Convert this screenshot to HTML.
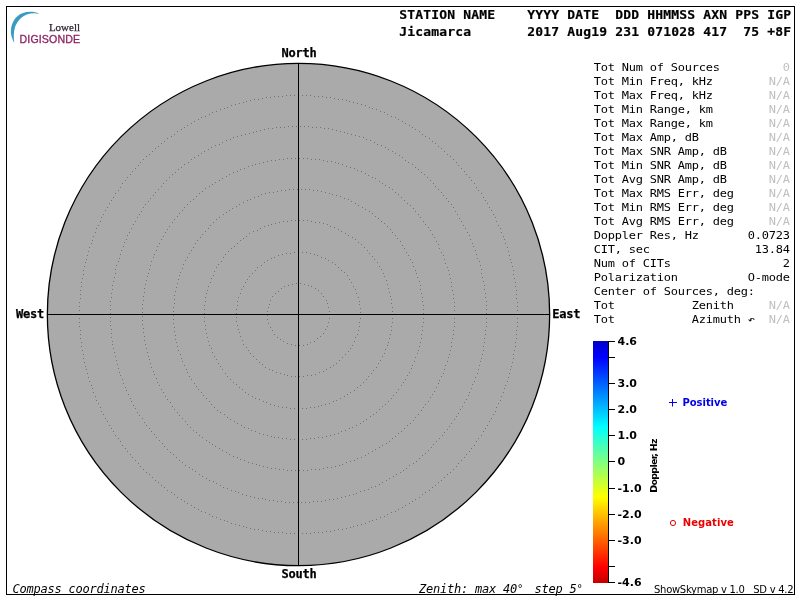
<!DOCTYPE html>
<html lang="en">
<head>
<meta charset="utf-8">
<title>Skymap - Jicamarca</title>
<style>
html,body{margin:0;padding:0;background:#fff;}
body{width:800px;height:600px;overflow:hidden;position:relative;}
svg{position:absolute;left:0;top:0;display:block;}
text{white-space:pre;}
.m{font-family:"DejaVu Sans Mono","Liberation Mono",monospace;font-size:12px;letter-spacing:-0.2246px;fill:#000;}
.mb{font-family:"DejaVu Sans Mono","Liberation Mono",monospace;font-size:12px;font-weight:bold;letter-spacing:-0.2246px;fill:#000;stroke:#000;stroke-width:0.25px;}
.mi{font-family:"DejaVu Sans Mono","Liberation Mono",monospace;font-size:12px;font-style:italic;letter-spacing:-0.2246px;fill:#000;}
.h{font-family:"DejaVu Sans Mono","Liberation Mono",monospace;font-size:13px;font-weight:bold;letter-spacing:0.173px;fill:#000;stroke:#000;stroke-width:0.2px;}
.na{fill:#c0c0c0;}
.dg2{font-size:10.5px;letter-spacing:-2.82px;}
.tk{font-family:"DejaVu Sans","Liberation Sans",sans-serif;font-size:11px;font-weight:bold;fill:#000;}
.lg{font-family:"DejaVu Sans","Liberation Sans",sans-serif;font-size:10px;font-weight:bold;}
.ft{font-family:"DejaVu Sans","Liberation Sans",sans-serif;font-size:10px;letter-spacing:-0.28px;fill:#000;}
.dp{font-family:"DejaVu Sans","Liberation Sans",sans-serif;font-size:9.5px;font-weight:bold;letter-spacing:-0.7px;fill:#000;}
.lw{font-family:"Liberation Serif",serif;font-size:11px;fill:#2d1f2f;stroke:#2d1f2f;stroke-width:0.25px;}
.dg{font-family:"Liberation Sans",sans-serif;font-size:10.6px;letter-spacing:0.12px;fill:#8e2461;stroke:#8e2461;stroke-width:0.3px;}
</style>
</head>
<body>
<svg width="800" height="600" viewBox="0 0 800 600">
<defs>
<linearGradient id="jet" x1="0" y1="0" x2="0" y2="1">
<stop offset="0.0000" stop-color="rgb(0,0,200)"/>
<stop offset="0.0661" stop-color="rgb(0,0,255)"/>
<stop offset="0.3554" stop-color="rgb(0,255,255)"/>
<stop offset="0.5000" stop-color="rgb(128,255,128)"/>
<stop offset="0.6446" stop-color="rgb(255,255,0)"/>
<stop offset="0.9339" stop-color="rgb(255,0,0)"/>
<stop offset="1.0000" stop-color="rgb(195,0,0)"/>
</linearGradient>
</defs>
<rect x="6.5" y="6.5" width="788" height="588" fill="none" stroke="#000" stroke-width="1"/>
<path d="M14.3 42.9 C11.5 38 10.3 33 11 29 C11.8 22 16 15.5 23 13 C28 11.2 34.5 11.5 39.3 13.8 C35 12.8 31 13 27.5 14.2 C21 16.5 16.5 22 14.8 28 C13.6 32.5 13.5 37 14.3 42.9 Z" fill="#3a9bc1"/>
<text class="lw" x="48.9" y="30.6">Lowell</text>
<text class="dg" x="19.6" y="42.8">DIGISONDE</text>
<circle cx="298.5" cy="314.5" r="251.15" fill="#aaaaaa" stroke="#000" stroke-width="1.3"/>
<path fill="#727272" shape-rendering="crispEdges" d="M329 314h1v1h-1zM329 318h1v1h-1zM328 322h1v1h-1zM327 326h1v1h-1zM325 329h1v1h-1zM323 333h1v1h-1zM320 336h1v1h-1zM317 338h1v1h-1zM314 341h1v1h-1zM310 342h1v1h-1zM307 344h1v1h-1zM303 345h1v1h-1zM299 345h1v1h-1zM295 345h1v1h-1zM291 344h1v1h-1zM287 343h1v1h-1zM283 341h1v1h-1zM280 339h1v1h-1zM277 337h1v1h-1zM274 334h1v1h-1zM272 330h1v1h-1zM270 327h1v1h-1zM268 323h1v1h-1zM267 319h1v1h-1zM267 315h1v1h-1zM267 311h1v1h-1zM268 307h1v1h-1zM269 304h1v1h-1zM270 300h1v1h-1zM272 296h1v1h-1zM275 293h1v1h-1zM278 291h1v1h-1zM281 288h1v1h-1zM284 286h1v1h-1zM288 285h1v1h-1zM292 284h1v1h-1zM296 283h1v1h-1zM300 283h1v1h-1zM304 284h1v1h-1zM308 285h1v1h-1zM311 286h1v1h-1zM315 288h1v1h-1zM318 290h1v1h-1zM321 293h1v1h-1zM323 296h1v1h-1zM326 300h1v1h-1zM327 303h1v1h-1zM328 307h1v1h-1zM329 311h1v1h-1z"/>
<path fill="#727272" shape-rendering="crispEdges" d="M360 314h1v1h-1zM360 318h1v1h-1zM359 322h1v1h-1zM359 326h1v1h-1zM358 330h1v1h-1zM357 334h1v1h-1zM355 337h1v1h-1zM354 341h1v1h-1zM352 345h1v1h-1zM350 348h1v1h-1zM348 351h1v1h-1zM345 354h1v1h-1zM342 357h1v1h-1zM339 360h1v1h-1zM336 363h1v1h-1zM333 365h1v1h-1zM330 367h1v1h-1zM326 369h1v1h-1zM323 371h1v1h-1zM319 372h1v1h-1zM315 374h1v1h-1zM311 375h1v1h-1zM307 375h1v1h-1zM303 376h1v1h-1zM299 376h1v1h-1zM295 376h1v1h-1zM291 376h1v1h-1zM287 375h1v1h-1zM284 374h1v1h-1zM280 373h1v1h-1zM276 372h1v1h-1zM272 370h1v1h-1zM269 369h1v1h-1zM265 367h1v1h-1zM262 364h1v1h-1zM259 362h1v1h-1zM256 359h1v1h-1zM253 356h1v1h-1zM250 353h1v1h-1zM248 350h1v1h-1zM246 347h1v1h-1zM243 344h1v1h-1zM242 340h1v1h-1zM240 336h1v1h-1zM239 332h1v1h-1zM238 329h1v1h-1zM237 325h1v1h-1zM236 321h1v1h-1zM236 317h1v1h-1zM236 313h1v1h-1zM236 309h1v1h-1zM237 305h1v1h-1zM237 301h1v1h-1zM238 297h1v1h-1zM240 293h1v1h-1zM241 289h1v1h-1zM243 286h1v1h-1zM245 282h1v1h-1zM247 279h1v1h-1zM249 276h1v1h-1zM252 273h1v1h-1zM255 270h1v1h-1zM257 267h1v1h-1zM261 265h1v1h-1zM264 262h1v1h-1zM267 260h1v1h-1zM271 258h1v1h-1zM274 257h1v1h-1zM278 255h1v1h-1zM282 254h1v1h-1zM286 253h1v1h-1zM290 253h1v1h-1zM294 252h1v1h-1zM298 252h1v1h-1zM302 252h1v1h-1zM306 252h1v1h-1zM310 253h1v1h-1zM314 254h1v1h-1zM317 255h1v1h-1zM321 257h1v1h-1zM325 258h1v1h-1zM328 260h1v1h-1zM332 262h1v1h-1zM335 264h1v1h-1zM338 267h1v1h-1zM341 270h1v1h-1zM344 272h1v1h-1zM347 275h1v1h-1zM349 279h1v1h-1zM351 282h1v1h-1zM353 286h1v1h-1zM355 289h1v1h-1zM356 293h1v1h-1zM358 297h1v1h-1zM359 301h1v1h-1zM359 304h1v1h-1zM360 308h1v1h-1zM360 312h1v1h-1z"/>
<path fill="#727272" shape-rendering="crispEdges" d="M392 314h1v1h-1zM392 318h1v1h-1zM392 322h1v1h-1zM391 326h1v1h-1zM391 330h1v1h-1zM390 334h1v1h-1zM389 338h1v1h-1zM388 342h1v1h-1zM387 345h1v1h-1zM385 349h1v1h-1zM384 353h1v1h-1zM382 356h1v1h-1zM380 360h1v1h-1zM378 363h1v1h-1zM376 367h1v1h-1zM373 370h1v1h-1zM371 373h1v1h-1zM368 376h1v1h-1zM366 379h1v1h-1zM363 382h1v1h-1zM360 385h1v1h-1zM357 387h1v1h-1zM354 390h1v1h-1zM350 392h1v1h-1zM347 394h1v1h-1zM344 396h1v1h-1zM340 398h1v1h-1zM336 400h1v1h-1zM333 401h1v1h-1zM329 403h1v1h-1zM325 404h1v1h-1zM321 405h1v1h-1zM318 406h1v1h-1zM314 407h1v1h-1zM310 407h1v1h-1zM306 408h1v1h-1zM302 408h1v1h-1zM298 408h1v1h-1zM294 408h1v1h-1zM290 408h1v1h-1zM286 407h1v1h-1zM282 407h1v1h-1zM278 406h1v1h-1zM274 405h1v1h-1zM270 404h1v1h-1zM266 402h1v1h-1zM263 401h1v1h-1zM259 399h1v1h-1zM255 398h1v1h-1zM252 396h1v1h-1zM248 394h1v1h-1zM245 392h1v1h-1zM242 389h1v1h-1zM239 387h1v1h-1zM236 384h1v1h-1zM233 382h1v1h-1zM230 379h1v1h-1zM227 376h1v1h-1zM225 373h1v1h-1zM222 369h1v1h-1zM220 366h1v1h-1zM218 363h1v1h-1zM216 359h1v1h-1zM214 356h1v1h-1zM212 352h1v1h-1zM211 348h1v1h-1zM209 345h1v1h-1zM208 341h1v1h-1zM207 337h1v1h-1zM206 333h1v1h-1zM205 329h1v1h-1zM205 325h1v1h-1zM204 321h1v1h-1zM204 317h1v1h-1zM204 313h1v1h-1zM204 309h1v1h-1zM204 305h1v1h-1zM205 301h1v1h-1zM205 297h1v1h-1zM206 293h1v1h-1zM207 290h1v1h-1zM208 286h1v1h-1zM210 282h1v1h-1zM211 278h1v1h-1zM213 275h1v1h-1zM214 271h1v1h-1zM216 267h1v1h-1zM218 264h1v1h-1zM221 261h1v1h-1zM223 257h1v1h-1zM225 254h1v1h-1zM228 251h1v1h-1zM231 248h1v1h-1zM234 246h1v1h-1zM237 243h1v1h-1zM240 240h1v1h-1zM243 238h1v1h-1zM246 236h1v1h-1zM249 233h1v1h-1zM253 231h1v1h-1zM257 230h1v1h-1zM260 228h1v1h-1zM264 226h1v1h-1zM268 225h1v1h-1zM271 224h1v1h-1zM275 223h1v1h-1zM279 222h1v1h-1zM283 221h1v1h-1zM287 221h1v1h-1zM291 220h1v1h-1zM295 220h1v1h-1zM299 220h1v1h-1zM303 220h1v1h-1zM307 220h1v1h-1zM311 221h1v1h-1zM315 222h1v1h-1zM319 222h1v1h-1zM323 223h1v1h-1zM327 224h1v1h-1zM330 226h1v1h-1zM334 227h1v1h-1zM338 229h1v1h-1zM341 231h1v1h-1zM345 233h1v1h-1zM348 235h1v1h-1zM352 237h1v1h-1zM355 239h1v1h-1zM358 242h1v1h-1zM361 244h1v1h-1zM364 247h1v1h-1zM367 250h1v1h-1zM369 253h1v1h-1zM372 256h1v1h-1zM374 259h1v1h-1zM377 262h1v1h-1zM379 266h1v1h-1zM381 269h1v1h-1zM383 273h1v1h-1zM384 276h1v1h-1zM386 280h1v1h-1zM387 284h1v1h-1zM388 288h1v1h-1zM389 292h1v1h-1zM390 296h1v1h-1zM391 299h1v1h-1zM391 303h1v1h-1zM392 307h1v1h-1zM392 311h1v1h-1z"/>
<path fill="#727272" shape-rendering="crispEdges" d="M423 314h1v1h-1zM423 318h1v1h-1zM423 322h1v1h-1zM422 326h1v1h-1zM422 330h1v1h-1zM421 334h1v1h-1zM421 338h1v1h-1zM420 342h1v1h-1zM419 346h1v1h-1zM418 350h1v1h-1zM417 353h1v1h-1zM415 357h1v1h-1zM414 361h1v1h-1zM412 365h1v1h-1zM411 368h1v1h-1zM409 372h1v1h-1zM407 375h1v1h-1zM405 379h1v1h-1zM403 382h1v1h-1zM401 385h1v1h-1zM398 389h1v1h-1zM396 392h1v1h-1zM393 395h1v1h-1zM391 398h1v1h-1zM388 401h1v1h-1zM385 404h1v1h-1zM382 406h1v1h-1zM379 409h1v1h-1zM376 412h1v1h-1zM373 414h1v1h-1zM370 416h1v1h-1zM366 419h1v1h-1zM363 421h1v1h-1zM360 423h1v1h-1zM356 425h1v1h-1zM352 427h1v1h-1zM349 428h1v1h-1zM345 430h1v1h-1zM341 431h1v1h-1zM338 433h1v1h-1zM334 434h1v1h-1zM330 435h1v1h-1zM326 436h1v1h-1zM322 437h1v1h-1zM318 437h1v1h-1zM314 438h1v1h-1zM310 438h1v1h-1zM306 439h1v1h-1zM302 439h1v1h-1zM298 439h1v1h-1zM294 439h1v1h-1zM290 439h1v1h-1zM286 438h1v1h-1zM282 438h1v1h-1zM278 437h1v1h-1zM274 437h1v1h-1zM271 436h1v1h-1zM267 435h1v1h-1zM263 434h1v1h-1zM259 433h1v1h-1zM255 431h1v1h-1zM251 430h1v1h-1zM248 428h1v1h-1zM244 427h1v1h-1zM241 425h1v1h-1zM237 423h1v1h-1zM234 421h1v1h-1zM230 419h1v1h-1zM227 417h1v1h-1zM224 414h1v1h-1zM220 412h1v1h-1zM217 410h1v1h-1zM214 407h1v1h-1zM211 404h1v1h-1zM209 401h1v1h-1zM206 398h1v1h-1zM203 395h1v1h-1zM201 392h1v1h-1zM198 389h1v1h-1zM196 386h1v1h-1zM194 383h1v1h-1zM191 379h1v1h-1zM189 376h1v1h-1zM187 372h1v1h-1zM186 369h1v1h-1zM184 365h1v1h-1zM182 361h1v1h-1zM181 358h1v1h-1zM180 354h1v1h-1zM178 350h1v1h-1zM177 346h1v1h-1zM176 342h1v1h-1zM175 339h1v1h-1zM175 335h1v1h-1zM174 331h1v1h-1zM174 327h1v1h-1zM173 323h1v1h-1zM173 319h1v1h-1zM173 315h1v1h-1zM173 311h1v1h-1zM173 307h1v1h-1zM174 303h1v1h-1zM174 299h1v1h-1zM174 295h1v1h-1zM175 291h1v1h-1zM176 287h1v1h-1zM177 283h1v1h-1zM178 279h1v1h-1zM179 275h1v1h-1zM180 272h1v1h-1zM182 268h1v1h-1zM183 264h1v1h-1zM185 260h1v1h-1zM187 257h1v1h-1zM189 253h1v1h-1zM191 250h1v1h-1zM193 247h1v1h-1zM195 243h1v1h-1zM197 240h1v1h-1zM200 237h1v1h-1zM202 234h1v1h-1zM205 231h1v1h-1zM208 228h1v1h-1zM210 225h1v1h-1zM213 222h1v1h-1zM216 219h1v1h-1zM219 217h1v1h-1zM223 214h1v1h-1zM226 212h1v1h-1zM229 210h1v1h-1zM232 208h1v1h-1zM236 206h1v1h-1zM239 204h1v1h-1zM243 202h1v1h-1zM247 200h1v1h-1zM250 199h1v1h-1zM254 197h1v1h-1zM258 196h1v1h-1zM261 194h1v1h-1zM265 193h1v1h-1zM269 192h1v1h-1zM273 192h1v1h-1zM277 191h1v1h-1zM281 190h1v1h-1zM285 190h1v1h-1zM289 189h1v1h-1zM293 189h1v1h-1zM297 189h1v1h-1zM301 189h1v1h-1zM305 189h1v1h-1zM309 189h1v1h-1zM313 190h1v1h-1zM317 190h1v1h-1zM321 191h1v1h-1zM325 192h1v1h-1zM329 193h1v1h-1zM332 194h1v1h-1zM336 195h1v1h-1zM340 196h1v1h-1zM344 198h1v1h-1zM348 199h1v1h-1zM351 201h1v1h-1zM355 203h1v1h-1zM358 205h1v1h-1zM362 207h1v1h-1zM365 209h1v1h-1zM369 211h1v1h-1zM372 213h1v1h-1zM375 216h1v1h-1zM378 218h1v1h-1zM381 221h1v1h-1zM384 223h1v1h-1zM387 226h1v1h-1zM390 229h1v1h-1zM392 232h1v1h-1zM395 235h1v1h-1zM397 238h1v1h-1zM400 241h1v1h-1zM402 245h1v1h-1zM404 248h1v1h-1zM406 252h1v1h-1zM408 255h1v1h-1zM410 259h1v1h-1zM412 262h1v1h-1zM413 266h1v1h-1zM415 270h1v1h-1zM416 273h1v1h-1zM417 277h1v1h-1zM419 281h1v1h-1zM420 285h1v1h-1zM420 289h1v1h-1zM421 293h1v1h-1zM422 297h1v1h-1zM422 301h1v1h-1zM423 305h1v1h-1zM423 309h1v1h-1zM423 313h1v1h-1z"/>
<path fill="#727272" shape-rendering="crispEdges" d="M454 314h1v1h-1zM454 318h1v1h-1zM454 322h1v1h-1zM454 326h1v1h-1zM453 330h1v1h-1zM453 334h1v1h-1zM452 338h1v1h-1zM451 342h1v1h-1zM451 346h1v1h-1zM450 350h1v1h-1zM449 354h1v1h-1zM448 357h1v1h-1zM447 361h1v1h-1zM445 365h1v1h-1zM444 369h1v1h-1zM443 373h1v1h-1zM441 376h1v1h-1zM439 380h1v1h-1zM438 383h1v1h-1zM436 387h1v1h-1zM434 391h1v1h-1zM432 394h1v1h-1zM430 397h1v1h-1zM428 401h1v1h-1zM425 404h1v1h-1zM423 407h1v1h-1zM421 410h1v1h-1zM418 414h1v1h-1zM415 417h1v1h-1zM413 420h1v1h-1zM410 423h1v1h-1zM407 425h1v1h-1zM404 428h1v1h-1zM401 431h1v1h-1zM398 433h1v1h-1zM395 436h1v1h-1zM392 438h1v1h-1zM389 441h1v1h-1zM386 443h1v1h-1zM382 445h1v1h-1zM379 447h1v1h-1zM375 449h1v1h-1zM372 451h1v1h-1zM368 453h1v1h-1zM365 455h1v1h-1zM361 457h1v1h-1zM357 458h1v1h-1zM354 460h1v1h-1zM350 461h1v1h-1zM346 462h1v1h-1zM342 464h1v1h-1zM339 465h1v1h-1zM335 466h1v1h-1zM331 467h1v1h-1zM327 467h1v1h-1zM323 468h1v1h-1zM319 469h1v1h-1zM315 469h1v1h-1zM311 469h1v1h-1zM307 470h1v1h-1zM303 470h1v1h-1zM299 470h1v1h-1zM295 470h1v1h-1zM291 470h1v1h-1zM287 470h1v1h-1zM283 469h1v1h-1zM279 469h1v1h-1zM275 468h1v1h-1zM271 468h1v1h-1zM267 467h1v1h-1zM263 466h1v1h-1zM259 465h1v1h-1zM256 464h1v1h-1zM252 463h1v1h-1zM248 462h1v1h-1zM244 460h1v1h-1zM240 459h1v1h-1zM237 457h1v1h-1zM233 456h1v1h-1zM229 454h1v1h-1zM226 452h1v1h-1zM222 450h1v1h-1zM219 448h1v1h-1zM215 446h1v1h-1zM212 444h1v1h-1zM209 442h1v1h-1zM206 440h1v1h-1zM202 437h1v1h-1zM199 435h1v1h-1zM196 432h1v1h-1zM193 430h1v1h-1zM190 427h1v1h-1zM187 424h1v1h-1zM185 421h1v1h-1zM182 418h1v1h-1zM179 415h1v1h-1zM177 412h1v1h-1zM174 409h1v1h-1zM172 406h1v1h-1zM170 402h1v1h-1zM167 399h1v1h-1zM165 396h1v1h-1zM163 392h1v1h-1zM161 389h1v1h-1zM159 385h1v1h-1zM157 382h1v1h-1zM156 378h1v1h-1zM154 374h1v1h-1zM153 371h1v1h-1zM151 367h1v1h-1zM150 363h1v1h-1zM149 359h1v1h-1zM148 356h1v1h-1zM147 352h1v1h-1zM146 348h1v1h-1zM145 344h1v1h-1zM144 340h1v1h-1zM144 336h1v1h-1zM143 332h1v1h-1zM143 328h1v1h-1zM142 324h1v1h-1zM142 320h1v1h-1zM142 316h1v1h-1zM142 312h1v1h-1zM142 308h1v1h-1zM142 304h1v1h-1zM143 300h1v1h-1zM143 296h1v1h-1zM144 292h1v1h-1zM144 288h1v1h-1zM145 284h1v1h-1zM146 280h1v1h-1zM147 276h1v1h-1zM148 273h1v1h-1zM149 269h1v1h-1zM150 265h1v1h-1zM151 261h1v1h-1zM153 257h1v1h-1zM154 254h1v1h-1zM156 250h1v1h-1zM157 246h1v1h-1zM159 243h1v1h-1zM161 239h1v1h-1zM163 236h1v1h-1zM165 232h1v1h-1zM167 229h1v1h-1zM169 226h1v1h-1zM172 222h1v1h-1zM174 219h1v1h-1zM177 216h1v1h-1zM179 213h1v1h-1zM182 210h1v1h-1zM184 207h1v1h-1zM187 204h1v1h-1zM190 201h1v1h-1zM193 199h1v1h-1zM196 196h1v1h-1zM199 193h1v1h-1zM202 191h1v1h-1zM205 188h1v1h-1zM209 186h1v1h-1zM212 184h1v1h-1zM215 182h1v1h-1zM219 180h1v1h-1zM222 178h1v1h-1zM226 176h1v1h-1zM229 174h1v1h-1zM233 172h1v1h-1zM237 171h1v1h-1zM240 169h1v1h-1zM244 168h1v1h-1zM248 166h1v1h-1zM252 165h1v1h-1zM255 164h1v1h-1zM259 163h1v1h-1zM263 162h1v1h-1zM267 161h1v1h-1zM271 160h1v1h-1zM275 160h1v1h-1zM279 159h1v1h-1zM283 159h1v1h-1zM287 158h1v1h-1zM291 158h1v1h-1zM295 158h1v1h-1zM299 158h1v1h-1zM303 158h1v1h-1zM307 158h1v1h-1zM311 159h1v1h-1zM315 159h1v1h-1zM319 159h1v1h-1zM323 160h1v1h-1zM327 161h1v1h-1zM331 161h1v1h-1zM335 162h1v1h-1zM338 163h1v1h-1zM342 164h1v1h-1zM346 166h1v1h-1zM350 167h1v1h-1zM354 168h1v1h-1zM357 170h1v1h-1zM361 171h1v1h-1zM365 173h1v1h-1zM368 175h1v1h-1zM372 177h1v1h-1zM375 178h1v1h-1zM379 181h1v1h-1zM382 183h1v1h-1zM385 185h1v1h-1zM389 187h1v1h-1zM392 189h1v1h-1zM395 192h1v1h-1zM398 194h1v1h-1zM401 197h1v1h-1zM404 200h1v1h-1zM407 203h1v1h-1zM410 205h1v1h-1zM413 208h1v1h-1zM415 211h1v1h-1zM418 214h1v1h-1zM420 217h1v1h-1zM423 221h1v1h-1zM425 224h1v1h-1zM428 227h1v1h-1zM430 230h1v1h-1zM432 234h1v1h-1zM434 237h1v1h-1zM436 241h1v1h-1zM438 244h1v1h-1zM439 248h1v1h-1zM441 252h1v1h-1zM443 255h1v1h-1zM444 259h1v1h-1zM445 263h1v1h-1zM447 267h1v1h-1zM448 270h1v1h-1zM449 274h1v1h-1zM450 278h1v1h-1zM451 282h1v1h-1zM451 286h1v1h-1zM452 290h1v1h-1zM453 294h1v1h-1zM453 298h1v1h-1zM454 302h1v1h-1zM454 306h1v1h-1zM454 310h1v1h-1z"/>
<path fill="#727272" shape-rendering="crispEdges" d="M486 314h1v1h-1zM486 318h1v1h-1zM486 322h1v1h-1zM486 326h1v1h-1zM485 330h1v1h-1zM485 334h1v1h-1zM484 338h1v1h-1zM484 342h1v1h-1zM483 346h1v1h-1zM483 350h1v1h-1zM482 354h1v1h-1zM481 358h1v1h-1zM480 361h1v1h-1zM479 365h1v1h-1zM478 369h1v1h-1zM477 373h1v1h-1zM475 377h1v1h-1zM474 381h1v1h-1zM472 384h1v1h-1zM471 388h1v1h-1zM469 392h1v1h-1zM468 395h1v1h-1zM466 399h1v1h-1zM464 402h1v1h-1zM462 406h1v1h-1zM460 409h1v1h-1zM458 413h1v1h-1zM456 416h1v1h-1zM454 419h1v1h-1zM451 423h1v1h-1zM449 426h1v1h-1zM447 429h1v1h-1zM444 432h1v1h-1zM442 435h1v1h-1zM439 438h1v1h-1zM436 441h1v1h-1zM433 444h1v1h-1zM431 447h1v1h-1zM428 450h1v1h-1zM425 453h1v1h-1zM422 455h1v1h-1zM419 458h1v1h-1zM416 461h1v1h-1zM413 463h1v1h-1zM409 465h1v1h-1zM406 468h1v1h-1zM403 470h1v1h-1zM400 472h1v1h-1zM396 474h1v1h-1zM393 476h1v1h-1zM389 478h1v1h-1zM386 480h1v1h-1zM382 482h1v1h-1zM379 484h1v1h-1zM375 486h1v1h-1zM371 487h1v1h-1zM368 489h1v1h-1zM364 490h1v1h-1zM360 491h1v1h-1zM356 493h1v1h-1zM353 494h1v1h-1zM349 495h1v1h-1zM345 496h1v1h-1zM341 497h1v1h-1zM337 498h1v1h-1zM333 499h1v1h-1zM329 499h1v1h-1zM325 500h1v1h-1zM321 501h1v1h-1zM317 501h1v1h-1zM313 501h1v1h-1zM309 502h1v1h-1zM305 502h1v1h-1zM301 502h1v1h-1zM297 502h1v1h-1zM293 502h1v1h-1zM289 502h1v1h-1zM285 502h1v1h-1zM281 501h1v1h-1zM277 501h1v1h-1zM273 500h1v1h-1zM269 500h1v1h-1zM265 499h1v1h-1zM262 498h1v1h-1zM258 498h1v1h-1zM254 497h1v1h-1zM250 496h1v1h-1zM246 495h1v1h-1zM242 494h1v1h-1zM238 492h1v1h-1zM235 491h1v1h-1zM231 490h1v1h-1zM227 488h1v1h-1zM223 487h1v1h-1zM220 485h1v1h-1zM216 483h1v1h-1zM213 481h1v1h-1zM209 480h1v1h-1zM206 478h1v1h-1zM202 476h1v1h-1zM199 474h1v1h-1zM195 471h1v1h-1zM192 469h1v1h-1zM189 467h1v1h-1zM185 465h1v1h-1zM182 462h1v1h-1zM179 460h1v1h-1zM176 457h1v1h-1zM173 454h1v1h-1zM170 452h1v1h-1zM167 449h1v1h-1zM164 446h1v1h-1zM162 443h1v1h-1zM159 440h1v1h-1zM156 437h1v1h-1zM154 434h1v1h-1zM151 431h1v1h-1zM149 428h1v1h-1zM146 425h1v1h-1zM144 422h1v1h-1zM142 418h1v1h-1zM139 415h1v1h-1zM137 412h1v1h-1zM135 408h1v1h-1zM133 405h1v1h-1zM131 401h1v1h-1zM130 398h1v1h-1zM128 394h1v1h-1zM126 390h1v1h-1zM125 387h1v1h-1zM123 383h1v1h-1zM122 379h1v1h-1zM120 375h1v1h-1zM119 372h1v1h-1zM118 368h1v1h-1zM117 364h1v1h-1zM116 360h1v1h-1zM115 356h1v1h-1zM114 352h1v1h-1zM113 348h1v1h-1zM112 344h1v1h-1zM112 341h1v1h-1zM111 337h1v1h-1zM111 333h1v1h-1zM111 329h1v1h-1zM110 325h1v1h-1zM110 321h1v1h-1zM110 317h1v1h-1zM110 313h1v1h-1zM110 309h1v1h-1zM110 305h1v1h-1zM110 301h1v1h-1zM111 297h1v1h-1zM111 293h1v1h-1zM112 289h1v1h-1zM112 285h1v1h-1zM113 281h1v1h-1zM114 277h1v1h-1zM115 273h1v1h-1zM115 269h1v1h-1zM116 265h1v1h-1zM118 261h1v1h-1zM119 258h1v1h-1zM120 254h1v1h-1zM121 250h1v1h-1zM123 246h1v1h-1zM124 242h1v1h-1zM126 239h1v1h-1zM127 235h1v1h-1zM129 232h1v1h-1zM131 228h1v1h-1zM133 224h1v1h-1zM135 221h1v1h-1zM137 217h1v1h-1zM139 214h1v1h-1zM141 211h1v1h-1zM143 207h1v1h-1zM145 204h1v1h-1zM148 201h1v1h-1zM150 198h1v1h-1zM153 195h1v1h-1zM155 192h1v1h-1zM158 189h1v1h-1zM161 186h1v1h-1zM163 183h1v1h-1zM166 180h1v1h-1zM169 177h1v1h-1zM172 174h1v1h-1zM175 172h1v1h-1zM178 169h1v1h-1zM181 167h1v1h-1zM184 164h1v1h-1zM188 162h1v1h-1zM191 159h1v1h-1zM194 157h1v1h-1zM198 155h1v1h-1zM201 153h1v1h-1zM204 151h1v1h-1zM208 149h1v1h-1zM211 147h1v1h-1zM215 145h1v1h-1zM219 144h1v1h-1zM222 142h1v1h-1zM226 140h1v1h-1zM230 139h1v1h-1zM233 137h1v1h-1zM237 136h1v1h-1zM241 135h1v1h-1zM245 134h1v1h-1zM249 133h1v1h-1zM253 132h1v1h-1zM256 131h1v1h-1zM260 130h1v1h-1zM264 129h1v1h-1zM268 128h1v1h-1zM272 128h1v1h-1zM276 127h1v1h-1zM280 127h1v1h-1zM284 127h1v1h-1zM288 126h1v1h-1zM292 126h1v1h-1zM296 126h1v1h-1zM300 126h1v1h-1zM304 126h1v1h-1zM308 126h1v1h-1zM312 127h1v1h-1zM316 127h1v1h-1zM320 127h1v1h-1zM324 128h1v1h-1zM328 128h1v1h-1zM332 129h1v1h-1zM336 130h1v1h-1zM340 131h1v1h-1zM344 132h1v1h-1zM347 133h1v1h-1zM351 134h1v1h-1zM355 135h1v1h-1zM359 136h1v1h-1zM363 137h1v1h-1zM366 139h1v1h-1zM370 140h1v1h-1zM374 142h1v1h-1zM377 144h1v1h-1zM381 145h1v1h-1zM385 147h1v1h-1zM388 149h1v1h-1zM392 151h1v1h-1zM395 153h1v1h-1zM399 155h1v1h-1zM402 157h1v1h-1zM405 160h1v1h-1zM408 162h1v1h-1zM412 164h1v1h-1zM415 167h1v1h-1zM418 169h1v1h-1zM421 172h1v1h-1zM424 174h1v1h-1zM427 177h1v1h-1zM430 180h1v1h-1zM433 183h1v1h-1zM435 186h1v1h-1zM438 189h1v1h-1zM441 192h1v1h-1zM443 195h1v1h-1zM446 198h1v1h-1zM448 201h1v1h-1zM451 204h1v1h-1zM453 207h1v1h-1zM455 211h1v1h-1zM457 214h1v1h-1zM459 218h1v1h-1zM461 221h1v1h-1zM463 225h1v1h-1zM465 228h1v1h-1zM467 232h1v1h-1zM469 235h1v1h-1zM470 239h1v1h-1zM472 243h1v1h-1zM473 246h1v1h-1zM475 250h1v1h-1zM476 254h1v1h-1zM477 258h1v1h-1zM479 261h1v1h-1zM480 265h1v1h-1zM481 269h1v1h-1zM481 273h1v1h-1zM482 277h1v1h-1zM483 281h1v1h-1zM484 285h1v1h-1zM484 289h1v1h-1zM485 293h1v1h-1zM485 297h1v1h-1zM486 301h1v1h-1zM486 305h1v1h-1zM486 309h1v1h-1zM486 313h1v1h-1z"/>
<path fill="#727272" shape-rendering="crispEdges" d="M517 314h1v1h-1zM517 318h1v1h-1zM517 322h1v1h-1zM517 326h1v1h-1zM516 330h1v1h-1zM516 334h1v1h-1zM516 338h1v1h-1zM515 342h1v1h-1zM515 346h1v1h-1zM514 350h1v1h-1zM513 354h1v1h-1zM513 358h1v1h-1zM512 362h1v1h-1zM511 366h1v1h-1zM510 369h1v1h-1zM509 373h1v1h-1zM508 377h1v1h-1zM507 381h1v1h-1zM505 385h1v1h-1zM504 388h1v1h-1zM503 392h1v1h-1zM501 396h1v1h-1zM500 400h1v1h-1zM498 403h1v1h-1zM496 407h1v1h-1zM495 411h1v1h-1zM493 414h1v1h-1zM491 418h1v1h-1zM489 421h1v1h-1zM487 425h1v1h-1zM485 428h1v1h-1zM483 431h1v1h-1zM481 435h1v1h-1zM478 438h1v1h-1zM476 441h1v1h-1zM474 445h1v1h-1zM471 448h1v1h-1zM469 451h1v1h-1zM466 454h1v1h-1zM464 457h1v1h-1zM461 460h1v1h-1zM458 463h1v1h-1zM456 466h1v1h-1zM453 469h1v1h-1zM450 472h1v1h-1zM447 474h1v1h-1zM444 477h1v1h-1zM441 480h1v1h-1zM438 482h1v1h-1zM435 485h1v1h-1zM432 487h1v1h-1zM429 490h1v1h-1zM425 492h1v1h-1zM422 494h1v1h-1zM419 497h1v1h-1zM415 499h1v1h-1zM412 501h1v1h-1zM409 503h1v1h-1zM405 505h1v1h-1zM402 507h1v1h-1zM398 509h1v1h-1zM395 511h1v1h-1zM391 512h1v1h-1zM387 514h1v1h-1zM384 516h1v1h-1zM380 517h1v1h-1zM376 519h1v1h-1zM372 520h1v1h-1zM369 521h1v1h-1zM365 523h1v1h-1zM361 524h1v1h-1zM357 525h1v1h-1zM353 526h1v1h-1zM350 527h1v1h-1zM346 528h1v1h-1zM342 529h1v1h-1zM338 529h1v1h-1zM334 530h1v1h-1zM330 531h1v1h-1zM326 531h1v1h-1zM322 532h1v1h-1zM318 532h1v1h-1zM314 532h1v1h-1zM310 533h1v1h-1zM306 533h1v1h-1zM302 533h1v1h-1zM298 533h1v1h-1zM294 533h1v1h-1zM290 533h1v1h-1zM286 533h1v1h-1zM282 532h1v1h-1zM278 532h1v1h-1zM274 532h1v1h-1zM270 531h1v1h-1zM266 531h1v1h-1zM262 530h1v1h-1zM258 529h1v1h-1zM254 529h1v1h-1zM250 528h1v1h-1zM246 527h1v1h-1zM243 526h1v1h-1zM239 525h1v1h-1zM235 524h1v1h-1zM231 523h1v1h-1zM227 521h1v1h-1zM224 520h1v1h-1zM220 519h1v1h-1zM216 517h1v1h-1zM212 516h1v1h-1zM209 514h1v1h-1zM205 512h1v1h-1zM201 511h1v1h-1zM198 509h1v1h-1zM194 507h1v1h-1zM191 505h1v1h-1zM187 503h1v1h-1zM184 501h1v1h-1zM181 499h1v1h-1zM177 497h1v1h-1zM174 494h1v1h-1zM171 492h1v1h-1zM167 490h1v1h-1zM164 487h1v1h-1zM161 485h1v1h-1zM158 482h1v1h-1zM155 480h1v1h-1zM152 477h1v1h-1zM149 474h1v1h-1zM146 472h1v1h-1zM143 469h1v1h-1zM140 466h1v1h-1zM138 463h1v1h-1zM135 460h1v1h-1zM132 457h1v1h-1zM130 454h1v1h-1zM127 451h1v1h-1zM125 448h1v1h-1zM122 445h1v1h-1zM120 441h1v1h-1zM118 438h1v1h-1zM115 435h1v1h-1zM113 431h1v1h-1zM111 428h1v1h-1zM109 425h1v1h-1zM107 421h1v1h-1zM105 418h1v1h-1zM103 414h1v1h-1zM101 411h1v1h-1zM100 407h1v1h-1zM98 403h1v1h-1zM96 400h1v1h-1zM95 396h1v1h-1zM93 392h1v1h-1zM92 388h1v1h-1zM91 385h1v1h-1zM89 381h1v1h-1zM88 377h1v1h-1zM87 373h1v1h-1zM86 369h1v1h-1zM85 366h1v1h-1zM84 362h1v1h-1zM83 358h1v1h-1zM83 354h1v1h-1zM82 350h1v1h-1zM81 346h1v1h-1zM81 342h1v1h-1zM80 338h1v1h-1zM80 334h1v1h-1zM80 330h1v1h-1zM79 326h1v1h-1zM79 322h1v1h-1zM79 318h1v1h-1zM79 314h1v1h-1zM79 310h1v1h-1zM79 306h1v1h-1zM79 302h1v1h-1zM80 298h1v1h-1zM80 294h1v1h-1zM80 290h1v1h-1zM81 286h1v1h-1zM81 282h1v1h-1zM82 278h1v1h-1zM83 274h1v1h-1zM83 270h1v1h-1zM84 266h1v1h-1zM85 262h1v1h-1zM86 259h1v1h-1zM87 255h1v1h-1zM88 251h1v1h-1zM89 247h1v1h-1zM91 243h1v1h-1zM92 240h1v1h-1zM93 236h1v1h-1zM95 232h1v1h-1zM96 228h1v1h-1zM98 225h1v1h-1zM100 221h1v1h-1zM101 217h1v1h-1zM103 214h1v1h-1zM105 210h1v1h-1zM107 207h1v1h-1zM109 203h1v1h-1zM111 200h1v1h-1zM113 197h1v1h-1zM115 193h1v1h-1zM118 190h1v1h-1zM120 187h1v1h-1zM122 183h1v1h-1zM125 180h1v1h-1zM127 177h1v1h-1zM130 174h1v1h-1zM132 171h1v1h-1zM135 168h1v1h-1zM138 165h1v1h-1zM140 162h1v1h-1zM143 159h1v1h-1zM146 156h1v1h-1zM149 154h1v1h-1zM152 151h1v1h-1zM155 148h1v1h-1zM158 146h1v1h-1zM161 143h1v1h-1zM164 141h1v1h-1zM167 138h1v1h-1zM171 136h1v1h-1zM174 134h1v1h-1zM177 131h1v1h-1zM181 129h1v1h-1zM184 127h1v1h-1zM187 125h1v1h-1zM191 123h1v1h-1zM194 121h1v1h-1zM198 119h1v1h-1zM201 117h1v1h-1zM205 116h1v1h-1zM209 114h1v1h-1zM212 112h1v1h-1zM216 111h1v1h-1zM220 109h1v1h-1zM224 108h1v1h-1zM227 107h1v1h-1zM231 105h1v1h-1zM235 104h1v1h-1zM239 103h1v1h-1zM243 102h1v1h-1zM246 101h1v1h-1zM250 100h1v1h-1zM254 99h1v1h-1zM258 99h1v1h-1zM262 98h1v1h-1zM266 97h1v1h-1zM270 97h1v1h-1zM274 96h1v1h-1zM278 96h1v1h-1zM282 96h1v1h-1zM286 95h1v1h-1zM290 95h1v1h-1zM294 95h1v1h-1zM298 95h1v1h-1zM302 95h1v1h-1zM306 95h1v1h-1zM310 95h1v1h-1zM314 96h1v1h-1zM318 96h1v1h-1zM322 96h1v1h-1zM326 97h1v1h-1zM330 97h1v1h-1zM334 98h1v1h-1zM338 99h1v1h-1zM342 99h1v1h-1zM346 100h1v1h-1zM349 101h1v1h-1zM353 102h1v1h-1zM357 103h1v1h-1zM361 104h1v1h-1zM365 105h1v1h-1zM369 107h1v1h-1zM372 108h1v1h-1zM376 109h1v1h-1zM380 111h1v1h-1zM384 112h1v1h-1zM387 114h1v1h-1zM391 116h1v1h-1zM395 117h1v1h-1zM398 119h1v1h-1zM402 121h1v1h-1zM405 123h1v1h-1zM409 125h1v1h-1zM412 127h1v1h-1zM415 129h1v1h-1zM419 131h1v1h-1zM422 134h1v1h-1zM425 136h1v1h-1zM429 138h1v1h-1zM432 141h1v1h-1zM435 143h1v1h-1zM438 146h1v1h-1zM441 148h1v1h-1zM444 151h1v1h-1zM447 154h1v1h-1zM450 156h1v1h-1zM453 159h1v1h-1zM456 162h1v1h-1zM458 165h1v1h-1zM461 168h1v1h-1zM464 171h1v1h-1zM466 174h1v1h-1zM469 177h1v1h-1zM471 180h1v1h-1zM474 183h1v1h-1zM476 187h1v1h-1zM478 190h1v1h-1zM481 193h1v1h-1zM483 197h1v1h-1zM485 200h1v1h-1zM487 203h1v1h-1zM489 207h1v1h-1zM491 210h1v1h-1zM493 214h1v1h-1zM495 217h1v1h-1zM496 221h1v1h-1zM498 225h1v1h-1zM500 228h1v1h-1zM501 232h1v1h-1zM503 236h1v1h-1zM504 239h1v1h-1zM505 243h1v1h-1zM507 247h1v1h-1zM508 251h1v1h-1zM509 255h1v1h-1zM510 259h1v1h-1zM511 262h1v1h-1zM512 266h1v1h-1zM513 270h1v1h-1zM513 274h1v1h-1zM514 278h1v1h-1zM515 282h1v1h-1zM515 286h1v1h-1zM516 290h1v1h-1zM516 294h1v1h-1zM516 298h1v1h-1zM517 302h1v1h-1zM517 306h1v1h-1zM517 310h1v1h-1z"/>
<line x1="298.5" y1="63.5" x2="298.5" y2="565.5" stroke="#000" stroke-width="1"/>
<line x1="47.5" y1="314.5" x2="549.5" y2="314.5" stroke="#000" stroke-width="1"/>
<text class="mb" x="281.6" y="57">North</text>
<text class="mb" x="281.5" y="578">South</text>
<text class="mb" x="16" y="318">West</text>
<text class="mb" x="552.2" y="318">East</text>
<text class="h" x="399.3" y="19">STATION NAME    YYYY DATE  DDD HHMMSS AXN PPS IGP</text>
<text class="h" x="399.3" y="36">Jicamarca       2017 Aug19 231 071028 417  75 +8F</text>
<text class="m" transform="translate(593.8 71) scale(1 0.915)">Tot Num of Sources</text><text class="m na" transform="translate(782.8 71) scale(1 0.915)">0</text>
<text class="m" transform="translate(593.8 85) scale(1 0.915)">Tot Min Freq, kHz</text><text class="m na" transform="translate(768.8 85) scale(1 0.915)">N/A</text>
<text class="m" transform="translate(593.8 99) scale(1 0.915)">Tot Max Freq, kHz</text><text class="m na" transform="translate(768.8 99) scale(1 0.915)">N/A</text>
<text class="m" transform="translate(593.8 113) scale(1 0.915)">Tot Min Range, km</text><text class="m na" transform="translate(768.8 113) scale(1 0.915)">N/A</text>
<text class="m" transform="translate(593.8 127) scale(1 0.915)">Tot Max Range, km</text><text class="m na" transform="translate(768.8 127) scale(1 0.915)">N/A</text>
<text class="m" transform="translate(593.8 141) scale(1 0.915)">Tot Max Amp, dB</text><text class="m na" transform="translate(768.8 141) scale(1 0.915)">N/A</text>
<text class="m" transform="translate(593.8 155) scale(1 0.915)">Tot Max SNR Amp, dB</text><text class="m na" transform="translate(768.8 155) scale(1 0.915)">N/A</text>
<text class="m" transform="translate(593.8 169) scale(1 0.915)">Tot Min SNR Amp, dB</text><text class="m na" transform="translate(768.8 169) scale(1 0.915)">N/A</text>
<text class="m" transform="translate(593.8 183) scale(1 0.915)">Tot Avg SNR Amp, dB</text><text class="m na" transform="translate(768.8 183) scale(1 0.915)">N/A</text>
<text class="m" transform="translate(593.8 197) scale(1 0.915)">Tot Max RMS Err, deg</text><text class="m na" transform="translate(768.8 197) scale(1 0.915)">N/A</text>
<text class="m" transform="translate(593.8 211) scale(1 0.915)">Tot Min RMS Err, deg</text><text class="m na" transform="translate(768.8 211) scale(1 0.915)">N/A</text>
<text class="m" transform="translate(593.8 225) scale(1 0.915)">Tot Avg RMS Err, deg</text><text class="m na" transform="translate(768.8 225) scale(1 0.915)">N/A</text>
<text class="m" transform="translate(593.8 239) scale(1 0.915)">Doppler Res, Hz</text><text class="m" transform="translate(747.8 239) scale(1 0.915)">0.0723</text>
<text class="m" transform="translate(593.8 253) scale(1 0.915)">CIT, sec</text><text class="m" transform="translate(754.8 253) scale(1 0.915)">13.84</text>
<text class="m" transform="translate(593.8 267) scale(1 0.915)">Num of CITs</text><text class="m" transform="translate(782.8 267) scale(1 0.915)">2</text>
<text class="m" transform="translate(593.8 281) scale(1 0.915)">Polarization</text><text class="m" transform="translate(747.8 281) scale(1 0.915)">O-mode</text>
<text class="m" transform="translate(593.8 295) scale(1 0.915)">Center of Sources, deg:</text>
<text class="m" transform="translate(593.8 309) scale(1 0.915)">Tot           Zenith</text><text class="m na" transform="translate(768.8 309) scale(1 0.915)">N/A</text>
<text class="m" transform="translate(593.8 323) scale(1 0.915)">Tot           Azimuth ↶</text><text class="m na" transform="translate(768.8 323) scale(1 0.915)">N/A</text>
<rect x="593" y="341" width="15" height="242" fill="url(#jet)"/>
<line x1="608.5" y1="341" x2="608.5" y2="583" stroke="#000" stroke-width="1"/>
<line x1="609" y1="341.5" x2="615" y2="341.5" stroke="#000" stroke-width="1"/><text class="tk" x="617.5" y="345">4.6</text>
<line x1="609" y1="357.5" x2="615" y2="357.5" stroke="#000" stroke-width="1"/>
<line x1="609" y1="383.5" x2="615" y2="383.5" stroke="#000" stroke-width="1"/><text class="tk" x="617.5" y="387">3.0</text>
<line x1="609" y1="409.5" x2="615" y2="409.5" stroke="#000" stroke-width="1"/><text class="tk" x="617.5" y="413">2.0</text>
<line x1="609" y1="435.5" x2="615" y2="435.5" stroke="#000" stroke-width="1"/><text class="tk" x="617.5" y="439">1.0</text>
<line x1="609" y1="461.5" x2="615" y2="461.5" stroke="#000" stroke-width="1"/><text class="tk" x="617.5" y="465">0</text>
<line x1="609" y1="488.5" x2="615" y2="488.5" stroke="#000" stroke-width="1"/><text class="tk" x="617.5" y="492">-1.0</text>
<line x1="609" y1="514.5" x2="615" y2="514.5" stroke="#000" stroke-width="1"/><text class="tk" x="617.5" y="518">-2.0</text>
<line x1="609" y1="540.5" x2="615" y2="540.5" stroke="#000" stroke-width="1"/><text class="tk" x="617.5" y="544">-3.0</text>
<line x1="609" y1="566.5" x2="615" y2="566.5" stroke="#000" stroke-width="1"/>
<line x1="609" y1="582.5" x2="615" y2="582.5" stroke="#000" stroke-width="1"/><text class="tk" x="617.5" y="586">-4.6</text>
<text class="dp" transform="translate(657.2 492.8) rotate(-90)">Doppler, Hz</text>
<path d="M669 402.5H677M672.5 399V406.5" stroke="#0000ee" stroke-width="1" fill="none"/>
<text class="lg" x="682.5" y="406" style="letter-spacing:-0.05px" fill="#0000ee">Positive</text>
<circle cx="673" cy="523" r="2.6" fill="none" stroke="#ee0000" stroke-width="1"/>
<text class="lg" x="682.7" y="526" style="letter-spacing:0.08px" fill="#ee0000">Negative</text>
<text class="mi" x="12.4" y="593">Compass coordinates</text>
<text class="mi" x="419" y="593">Zenith: max 40<tspan class="dg2" dy="-1">°</tspan><tspan dy="1">  step 5</tspan><tspan class="dg2" dy="-1">°</tspan></text>
<text class="ft" x="654" y="592.5">ShowSkymap v 1.0   SD v 4.2</text>
</svg>
</body>
</html>
